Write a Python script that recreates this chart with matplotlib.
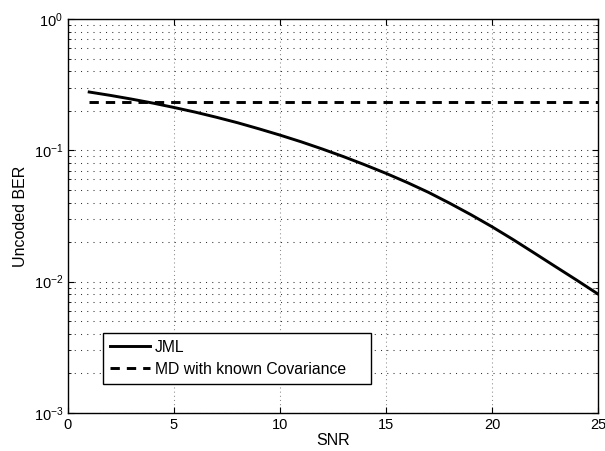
import numpy as np
import matplotlib
matplotlib.use("Agg")
import matplotlib.pyplot as plt
from matplotlib.ticker import LogLocator, NullFormatter, FixedLocator

plt.rcParams['font.family'] = ['Liberation Sans', 'DejaVu Sans']

snr = [1, 2, 3, 4, 5, 6, 7, 8, 9, 10, 11, 12, 13, 14, 15, 16, 17, 18, 19, 20, 21, 22, 23, 24, 25]
ber_jml = [0.278, 0.262, 0.2455, 0.229, 0.212, 0.1954, 0.1786, 0.1622, 0.1459, 0.1306,
           0.1161, 0.1023, 0.0895, 0.0776, 0.0668, 0.0569, 0.0479, 0.0396, 0.0324,
           0.0262, 0.0209, 0.0165, 0.0130, 0.01026, 0.00805]
snr_md = [1, 25]
ber_md = [0.232, 0.232]

xticks = [0, 5, 10, 15, 20, 25]

fig = plt.figure(figsize=(6.05, 4.51), dpi=100)
ax = fig.add_axes([68/605, 1-413/451, (598-68)/605, (413-19)/451])

ax.semilogy(snr, ber_jml, color='black', lw=2.1, label='JML')
ax.semilogy(snr_md, ber_md, color='black', lw=2.1, ls=(0, (3.2, 2.4)), label='MD with known Covariance')

ax.set_xlim(0, 25)
ax.set_ylim(1e-3, 1e0)
ax.xaxis.set_major_locator(FixedLocator(xticks))
ax.yaxis.set_major_locator(LogLocator(base=10, numticks=10))
ax.yaxis.set_minor_locator(LogLocator(base=10, subs=np.arange(2, 10), numticks=20))
ax.yaxis.set_minor_formatter(NullFormatter())

ax.grid(True, which='major', axis='x', color='#8a8a8a', ls=(0, (1, 3)), lw=0.75)
ax.grid(True, which='major', axis='y', color='#333333', ls=(0, (1, 5)), lw=0.75)
ax.grid(True, which='minor', axis='y', color='#333333', ls=(0, (1, 5)), lw=0.75)

ax.tick_params(which='both', direction='in', top=True, right=True, labelsize=10.5)
ax.tick_params(which='major', length=4)
ax.tick_params(which='minor', length=2)
for s in ax.spines.values():
    s.set_linewidth(1.0)

ax.set_xlabel('SNR', fontsize=11.5, labelpad=1)
ax.set_ylabel('Uncoded BER', fontsize=11.5, labelpad=4)

ax_w = 530.0
ax_h = 394.0
leg = ax.legend(loc='lower left', mode='expand',
                bbox_to_anchor=((103-68)/ax_w, (413-384)/ax_h, (371-103)/ax_w, (384-331)/ax_h),
                fontsize=11.3, fancybox=False, edgecolor='black', framealpha=1,
                borderaxespad=0, handlelength=2.55, handletextpad=0.3,
                borderpad=0.45, labelspacing=0.45)
leg.get_frame().set_linewidth(1.0)

fig.savefig('out.png', dpi=100)
